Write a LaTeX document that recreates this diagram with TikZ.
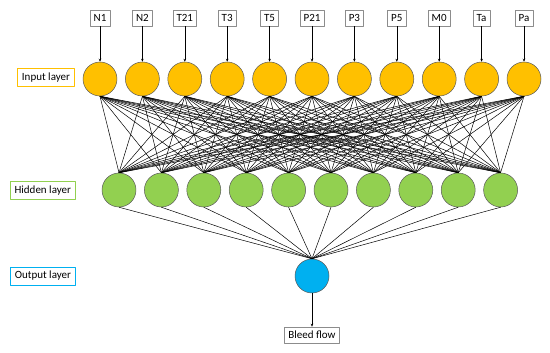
\documentclass[tikz,border=0pt]{standalone}
\usepackage{fontspec}
\setmainfont{Carlito}
\usetikzlibrary{arrows.meta,positioning}
\definecolor{inorange}{HTML}{FFC000}
\definecolor{hidgreen}{HTML}{92D050}
\definecolor{outblue}{HTML}{00B0F0}

\begin{document}
\begin{tikzpicture}[x=1pt, y=-1pt, line cap=round, line join=round,
  font=\fontsize{11}{13}\selectfont,
  neuron/.style={circle, draw=black!65, line width=0.5pt, minimum size=34pt, inner sep=0pt},
  varbox/.style={draw=black!45, line width=0.6pt, minimum height=16pt, inner xsep=3.5pt, inner ysep=1pt},
  layerlabel/.style={draw, line width=1pt, minimum height=18pt, inner xsep=4.5pt, inner ysep=1pt, anchor=east},
  wire/.style={line width=0.5pt}]
\useasboundingbox (0,0) rectangle (550,353);
% input layer
\foreach \name [count=\i] in {N1,N2,T21,T3,T5,P21,P3,P5,M0,Ta,Pa} {
  \pgfmathsetmacro{\x}{100 + 42.4*(\i-1)}
  \node[neuron, fill=inorange] (in\i) at (\x,79) {};
  \node[varbox] (var\i) at (\x,18) {\name};
  \draw[wire,-{Stealth[length=3pt,width=2.5pt]}] (var\i) -- (in\i);
}
% hidden layer
\foreach \j in {1,...,10} {
  \pgfmathsetmacro{\x}{119 + 42.4*(\j-1)}
  \node[neuron, fill=hidgreen] (hid\j) at (\x,190) {};
}
% output layer
\node[neuron, fill=outblue] (out) at (312,276) {};
\node[varbox, inner xsep=4pt] (bleed) at (312,335) {Bleed flow};
% connections
\foreach \i in {1,...,11} {
  \foreach \j in {1,...,10} {
    \draw[wire] (in\i.south) -- (hid\j.north);
  }
}
\foreach \j in {1,...,10} {
  \draw[wire] (hid\j.south) -- (out.north);
}
\draw[wire,-{Stealth[length=3pt,width=2.5pt]}] (out) -- (bleed);
% layer labels
\node[layerlabel, draw=inorange] (inlabel) at (75,78) {Input layer};
\node[layerlabel, draw=hidgreen] (hidlabel) at (76,191) {Hidden layer};
\node[layerlabel, draw=outblue] (outlabel) at (76,276) {Output layer};
\end{tikzpicture}
\end{document}
